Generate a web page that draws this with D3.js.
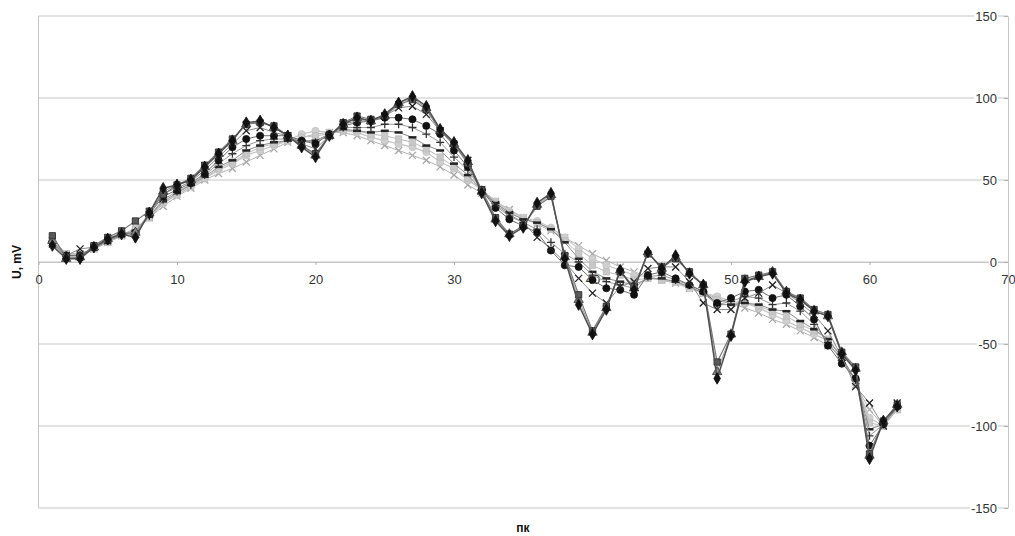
<!DOCTYPE html>
<html>
<head>
<meta charset="utf-8">
<script src="https://cdn.jsdelivr.net/npm/d3@7"></script>
<style>
  body { margin: 0; background: #fff; }
  text { font-family: "Liberation Sans", Arial, sans-serif; }
</style>
</head>
<body>
<svg id="chart" width="1015" height="536"></svg>
<script>
// picket numbers along the profile
const pk = d3.range(1, 63);

// raw profile and progressively smoother versions of it (mV)
const serDiamond = [10,2,2,9,14,17,15,30,45,47, 50,58,66,74,85,86,82,77,70,64, 77,84,88,86,90,97,101,95,81,73,
  62,42,25,16,21,36,42,2,-26,-44, -29,-5,-17,6,-4,4,-7,-14,-71,-45, -12,-9,-7,-19,-23,-30,-33,-56,-66,-120, -97,-88];
const serSquare = [16,3,3,10,15,19,25,31,41,47, 51,59,67,75,84,85,83,77,71,66, 77,85,89,87,89,96,99,93,80,72,
  60,44,27,17,22,34,40,4,-20,-42, -27,-6,-15,5,-3,2,-6,-14,-61,-44, -10,-8,-6,-18,-22,-29,-32,-55,-64,-117, -97,-87];
const serTriangle = [13,2,3,9,14,18,18,30,43,47, 50,58,66,74,84,86,82,77,71,65, 77,84,88,86,89,97,100,94,80,72,
  61,43,26,17,22,35,41,3,-23,-43, -28,-5,-16,6,-4,3,-7,-14,-67,-44, -11,-9,-6,-18,-23,-30,-33,-55,-65,-118, -97,-87];
const serCross = [11,4,8,9,13,17,17,29,42,45, 49,56,64,72,80,82,79,77,72,69, 77,84,86,86,89,94,95,90,80,71,
  62,44,35,29,24,15,8,0,-10,-19, -25,-15,-12,-4,-3,-3,-12,-25,-29,-29, -22,-19,-14,-19,-25,-32,-42,-58,-76,-86, -100,-86];
const serCircle = [12,4,4,9,13,17,18,29,40,44, 48,54,62,70,75,77,77,77,74,72, 78,83,85,86,88,88,87,83,78,68,
  58,44,33,26,22,18,7,-2,-3,-11, -16,-17,-20,-8,-6,-10,-14,-18,-25,-22, -18,-17,-22,-20,-27,-35,-51,-62,-71,-112, -99,-88];
const serPlus = [12,4,4,9,13,17,18,28,38,43, 47,53,60,66,71,74,75,75,74,73, 78,82,82,82,84,84,82,78,73,64,
  56,44,34,28,24,20,12,5,0,-8, -12,-14,-16,-9,-8,-11,-14,-18,-26,-24, -21,-22,-26,-25,-30,-38,-49,-60,-72,-106, -99,-88];
const serDash = [12,4,4,8,13,16,19,28,37,42, 47,52,58,62,68,71,73,74,74,74, 78,81,80,79,80,79,76,71,68,60,
  53,44,36,30,26,24,20,12,2,-6, -10,-12,-14,-10,-10,-12,-15,-19,-26,-26, -25,-26,-29,-30,-36,-41,-47,-58,-72,-102, -99,-89];
const serLightSquare = [13,5,5,8,12,16,20,27,36,41, 46,51,57,61,66,70,72,74,76,77, 78,80,80,78,77,75,73,69,64,58,
  51,44,36,30,26,24,20,13,5,-2, -6,-8,-11,-10,-11,-12,-15,-19,-23,-25, -25,-27,-30,-33,-38,-42,-47,-58,-73,-98, -100,-90];
const serLightCircle = [13,5,5,8,12,16,20,27,36,41, 46,51,56,60,65,68,71,74,78,80, 79,80,79,76,74,72,70,67,61,57,
  50,44,37,31,27,25,21,15,8,2, -2,-5,-8,-9,-11,-12,-16,-19,-21,-24, -25,-28,-32,-36,-40,-44,-48,-58,-74,-95, -100,-90];
const serLightCross = [13,5,5,8,12,16,21,27,34,40, 45,50,54,57,61,65,69,73,76,78, 79,79,77,74,71,68,65,62,58,53,
  47,42,37,32,27,23,19,15,10,5, 1,-3,-6,-9,-11,-13,-16,-19,-22,-25, -28,-31,-35,-38,-42,-46,-51,-58,-75,-90, -100,-90];

const xTicks = [0, 10, 20, 30, 40, 50, 60, 70];
const yTicks = [-150, -100, -50, 0, 50, 100, 150];

const svg = d3.select('#chart');
const x = d3.scaleLinear().domain([0, 70]).range([38.5, 1008]);
const y = d3.scaleLinear().domain([-150, 150]).range([508, 16]);

// drawn from smoothest (bottom) to raw (top)
const series = [
  { values: serLightCross, marker: 'x', line: '#b4b4b4', fill: 'none', stroke: '#a8a8a8', lw: 1 },
  { values: serLightCircle, marker: 'circle', line: '#c4c4c4', fill: '#cfcfcf', stroke: '#c4c4c4', lw: 1.2 },
  { values: serLightSquare, marker: 'square', line: '#bcbcbc', fill: '#c8c8c8', stroke: '#bdbdbd', lw: 1 },
  { values: serDash, marker: 'dash', line: '#8c8c8c', fill: 'none', stroke: '#222', lw: 1 },
  { values: serPlus, marker: 'plus', line: '#9a9a9a', fill: 'none', stroke: '#333', lw: 1 },
  { values: serCircle, marker: 'circle', line: '#6e6e6e', fill: '#111', stroke: '#111', lw: 1 },
  { values: serCross, marker: 'x', line: '#8a8a8a', fill: 'none', stroke: '#222', lw: 1 },
  { values: serTriangle, marker: 'triangle', line: '#9a9a9a', fill: '#8a8a8a', stroke: '#333', lw: 1 },
  { values: serSquare, marker: 'square', line: '#7a7a7a', fill: '#5a5a5a', stroke: '#222', lw: 1.2 },
  { values: serDiamond, marker: 'diamond', line: '#505050', fill: '#111', stroke: '#111', lw: 1.5 },
];

// grid
svg.append('g')
  .selectAll('line')
  .data(yTicks)
  .join('line')
  .attr('x1', x(0)).attr('x2', x(70))
  .attr('y1', (d) => y(d)).attr('y2', (d) => y(d))
  .attr('stroke', '#c6c6c6').attr('stroke-width', 1);

// left border of plot area
svg.append('line')
  .attr('x1', x(0)).attr('x2', x(0))
  .attr('y1', y(150)).attr('y2', y(-150))
  .attr('stroke', '#c6c6c6');

// x axis along zero line
const xAxis = svg.append('g')
  .attr('transform', `translate(0,${y(0)})`)
  .call(d3.axisBottom(x).tickValues(xTicks).tickSize(3).tickPadding(10).tickSizeOuter(0));
xAxis.select('.domain').attr('stroke', '#c6c6c6');
xAxis.selectAll('line').attr('stroke', '#b0b0b0');
xAxis.selectAll('text').attr('font-size', 13).attr('fill', '#333');

// value axis on the right edge, labels inside
const yAxis = svg.append('g')
  .attr('transform', `translate(${x(70)},0)`)
  .call(d3.axisLeft(y).tickValues(yTicks).tickFormat((d) => String(d))
    .tickSize(4).tickPadding(7).tickSizeOuter(0));
yAxis.select('.domain').attr('stroke', '#c6c6c6');
yAxis.selectAll('line').attr('stroke', '#b0b0b0');
yAxis.selectAll('text').attr('font-size', 13).attr('fill', '#333');
yAxis.selectAll('.tick').each(function () {
  const t = d3.select(this).select('text');
  const b = t.node().getBBox();
  d3.select(this).insert('rect', 'text')
    .attr('x', b.x - 1).attr('y', b.y).attr('width', b.width + 2).attr('height', b.height)
    .attr('fill', '#fff');
});

const lineGen = d3.line().x((d, i) => x(pk[i])).y((d) => y(d));

function markerPath(kind) {
  if (kind === 'x') return 'M-3.5,-3.5L3.5,3.5M-3.5,3.5L3.5,-3.5';
  if (kind === 'dash') return 'M-4,0L4,0';
  if (kind === 'plus') return 'M-4,0L4,0M0,-4L0,4';
  const types = { circle: d3.symbolCircle, square: d3.symbolSquare, triangle: d3.symbolTriangle, diamond: d3.symbolDiamond };
  const sizes = { circle: 40, square: 40, triangle: 38, diamond: 38 };
  return d3.symbol().type(types[kind]).size(sizes[kind])();
}

series.forEach((s) => {
  const g = svg.append('g');
  g.append('path')
    .attr('d', lineGen(s.values))
    .attr('fill', 'none')
    .attr('stroke', s.line)
    .attr('stroke-width', s.lw);

  g.selectAll('path.m')
    .data(s.values)
    .join('path')
    .attr('class', 'm')
    .attr('transform', (d, i) => `translate(${x(pk[i])},${y(d)})`)
    .attr('d', markerPath(s.marker))
    .attr('fill', s.fill)
    .attr('stroke', s.stroke)
    .attr('stroke-width', s.marker === 'dash' ? 2.5 : (s.marker === 'x' || s.marker === 'plus' ? 1.3 : 0.8));
});

// axis titles
svg.append('text')
  .attr('transform', `translate(21,${y(0)}) rotate(-90)`)
  .attr('text-anchor', 'middle')
  .attr('font-size', 12).attr('font-weight', 'bold').attr('fill', '#111')
  .text('U, mV');

svg.append('text')
  .attr('x', 523).attr('y', 532)
  .attr('text-anchor', 'middle')
  .attr('font-size', 12).attr('font-weight', 'bold').attr('fill', '#111')
  .text('пк');
</script>
</body>
</html>
